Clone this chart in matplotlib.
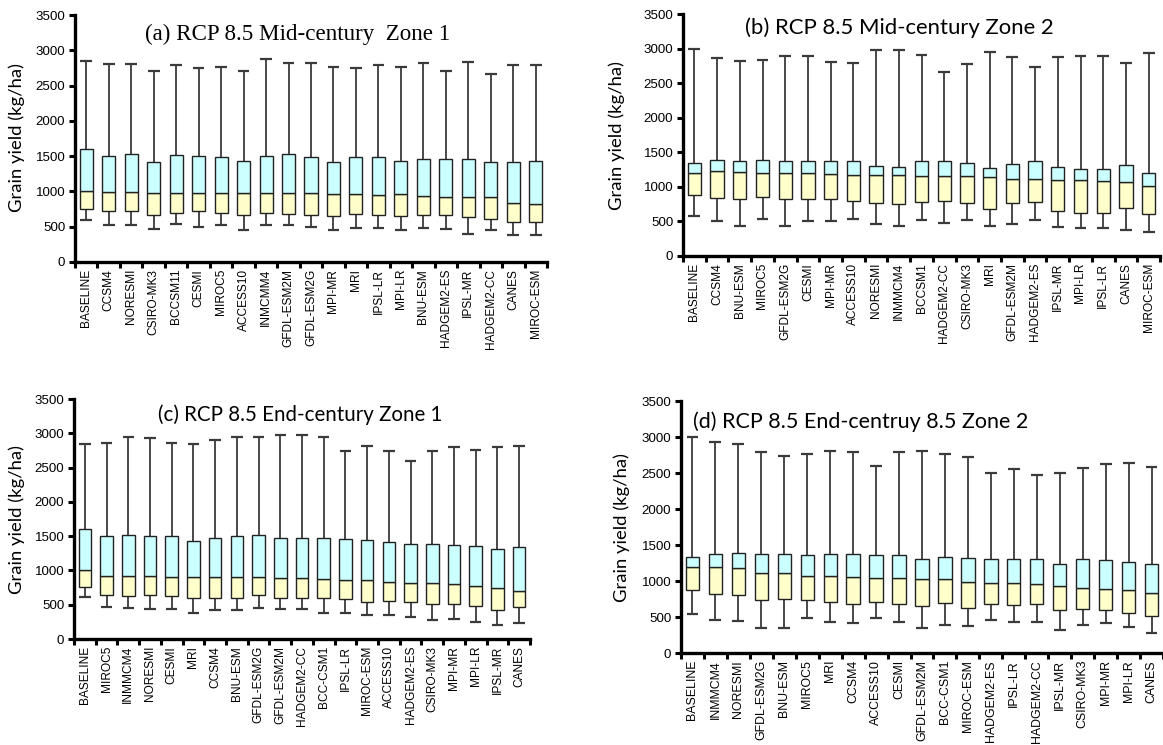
import numpy as np
import matplotlib
matplotlib.use("Agg")
import matplotlib.pyplot as plt

# grain yield box summaries (kg/ha): min, Q1, median, Q3, max per GCM
models_a = ['BASELINE', 'CCSM4', 'NORESMI', 'CSIRO-MK3', 'BCCSM11', 'CESMI', 'MIROC5',
            'ACCESS10', 'INMCMM4', 'GFDL-ESM2M', 'GFDL-ESM2G', 'MPI-MR', 'MRI', 'IPSL-LR',
            'MPI-LR', 'BNU-ESM', 'HADGEM2-ES', 'IPSL-MR', 'HADGEM2-CC', 'CANES', 'MIROC-ESM']
min_a = [600, 520, 520, 465, 535, 500, 520, 450, 520, 520, 500, 450, 485, 485, 450, 485, 465, 400, 450, 385, 385]
q1_a = [750, 720, 720, 670, 700, 720, 700, 670, 700, 685, 670, 655, 685, 670, 655, 670, 670, 635, 615, 570, 570]
med_a = [1000, 990, 990, 975, 975, 975, 975, 975, 975, 975, 975, 960, 960, 955, 960, 940, 925, 925, 925, 840, 820]
q3_a = [1600, 1500, 1530, 1410, 1520, 1500, 1485, 1430, 1500, 1530, 1485, 1410, 1485, 1485, 1430, 1465, 1465, 1465, 1410, 1410, 1430]
max_a = [2850, 2800, 2800, 2700, 2785, 2750, 2770, 2700, 2870, 2820, 2820, 2770, 2750, 2785, 2770, 2820, 2700, 2835, 2670, 2785, 2785]

models_b = ['BASELINE', 'CCSM4', 'BNU-ESM', 'MIROC5', 'GFDL-ESM2G', 'CESMI', 'MPI-MR',
            'ACCESS10', 'NORESMI', 'INMMCM4', 'BCCSM1', 'HADGEM2-CC', 'CSIRO-MK3', 'MRI',
            'GFDL-ESM2M', 'HADGEM2-ES', 'IPSL-MR', 'MPI-LR', 'IPSL-LR', 'CANES', 'MIROC-ESM']
min_b = [575, 505, 440, 540, 440, 505, 505, 540, 460, 440, 525, 475, 525, 440, 460, 525, 420, 405, 405, 375, 340]
q1_b = [880, 845, 825, 860, 825, 825, 825, 795, 760, 745, 785, 800, 765, 680, 765, 785, 645, 625, 625, 695, 610]
med_b = [1200, 1235, 1215, 1200, 1200, 1200, 1185, 1170, 1170, 1170, 1150, 1150, 1150, 1140, 1120, 1120, 1100, 1100, 1085, 1070, 1015]
q3_b = [1350, 1390, 1375, 1390, 1375, 1375, 1375, 1375, 1305, 1285, 1375, 1375, 1350, 1270, 1335, 1375, 1290, 1255, 1255, 1310, 1205]
max_b = [3000, 2860, 2820, 2840, 2890, 2890, 2805, 2790, 2980, 2980, 2910, 2655, 2775, 2945, 2875, 2740, 2875, 2890, 2890, 2790, 2930]

models_c = ['BASELINE', 'MIROC5', 'INMMCM4', 'NORESMI', 'CESMI', 'MRI', 'CCSM4', 'BNU-ESM',
            'GFDL-ESM2G', 'GFDL-ESM2M', 'HADGEM2-CC', 'BCC-CSM1', 'IPSL-LR', 'MIROC-ESM',
            'ACCESS10', 'HADGEM2-ES', 'CSIRO-MK3', 'MPI-MR', 'MPI-LR', 'IPSL-MR', 'CANES']
min_c = [610, 470, 450, 435, 435, 380, 420, 420, 450, 435, 435, 380, 380, 345, 345, 325, 280, 295, 255, 205, 235]
q1_c = [760, 640, 620, 640, 620, 605, 605, 605, 640, 605, 605, 605, 590, 535, 550, 535, 515, 515, 485, 430, 460]
med_c = [1005, 915, 915, 915, 900, 900, 900, 900, 900, 885, 885, 870, 855, 855, 835, 815, 815, 795, 775, 745, 705]
q3_c = [1600, 1500, 1515, 1500, 1500, 1430, 1480, 1500, 1515, 1480, 1480, 1480, 1460, 1440, 1410, 1390, 1390, 1370, 1355, 1315, 1335]
max_c = [2845, 2865, 2950, 2935, 2865, 2845, 2900, 2950, 2950, 2970, 2970, 2950, 2735, 2820, 2735, 2600, 2735, 2800, 2755, 2800, 2820]

models_d = ['BASELINE', 'INMMCM4', 'NORESMI', 'GFDL-ESM2G', 'BNU-ESM', 'MIROC5', 'MRI', 'CCSM4',
            'ACCESS10', 'CESMI', 'GFDL-ESM2M', 'BCC-CSM1', 'MIROC-ESM', 'HADGEM2-ES', 'IPSL-LR',
            'HADGEM2-CC', 'IPSL-MR', 'CSIRO-MK3', 'MPI-MR', 'MPI-LR', 'CANES']
min_d = [545, 460, 445, 345, 345, 480, 425, 410, 480, 425, 345, 395, 375, 465, 425, 425, 325, 395, 410, 360, 275]
q1_d = [870, 820, 800, 730, 750, 730, 715, 680, 715, 680, 650, 700, 630, 680, 665, 680, 595, 615, 600, 560, 520]
med_d = [1195, 1195, 1175, 1110, 1110, 1075, 1075, 1060, 1040, 1040, 1030, 1030, 990, 975, 975, 955, 935, 905, 890, 870, 840]
q3_d = [1335, 1370, 1385, 1370, 1370, 1355, 1370, 1370, 1355, 1355, 1300, 1335, 1315, 1300, 1300, 1300, 1235, 1300, 1285, 1265, 1235]
max_d = [3000, 2930, 2900, 2790, 2740, 2760, 2810, 2790, 2600, 2790, 2810, 2760, 2725, 2500, 2550, 2470, 2500, 2570, 2620, 2640, 2590]

W, H = 1163, 745


def px_box(left, right, top, bottom):
    return [left / W, (H - bottom) / H, (right - left) / W, (bottom - top) / H]


def yieldbox(ax, names, lo, q1, med, q3, hi, namesize=8.6):
    x = np.arange(len(names))
    ax.vlines(x, lo, hi, color='#3a3a3a', lw=1.3, zorder=1)
    ax.hlines(lo, x - 0.26, x + 0.26, color='#3a3a3a', lw=1.6, zorder=1)
    ax.hlines(hi, x - 0.26, x + 0.26, color='#3a3a3a', lw=1.6, zorder=1)
    q1, med, q3 = np.array(q1), np.array(med), np.array(q3)
    ax.bar(x, med - q1, bottom=q1, width=0.58, color='#FFFFCC', edgecolor='#222222', lw=1.0, zorder=2)
    ax.bar(x, q3 - med, bottom=med, width=0.58, color='#CCFFFF', edgecolor='#222222', lw=1.0, zorder=2)

    ax.set_xlim(-0.5, len(names) - 0.5)
    ax.set_ylim(0, 3500)
    ax.set_yticks(np.arange(0, 3501, 500))
    ax.set_xticks(np.arange(-0.5, len(names), 1.0))
    ax.set_xticklabels([])
    ax.set_xticks(x, minor=True)
    ax.set_xticklabels(names, minor=True, rotation=90, fontsize=namesize, family='Liberation Sans')
    ax.tick_params(axis='x', which='major', direction='out', length=4, width=2.2)
    ax.tick_params(axis='x', which='minor', length=0, pad=5)
    ax.tick_params(axis='y', direction='out', length=4, width=2.2, pad=3,
                   labelsize=9.6, labelfontfamily='Liberation Sans')
    for s in ['top', 'right']:
        ax.spines[s].set_visible(False)
    for s in ['left', 'bottom']:
        ax.spines[s].set_linewidth(2.4)
    ax.patch.set_alpha(0)


fig = plt.figure(figsize=(W / 100, H / 100), dpi=100)

panels = [
    (px_box(75, 547, 15, 262), models_a, min_a, q1_a, med_a, q3_a, max_a, 8.6),
    (px_box(683, 1160, 14, 256), models_b, min_b, q1_b, med_b, q3_b, max_b, 8.6),
    (px_box(74, 530, 399, 639), models_c, min_c, q1_c, med_c, q3_c, max_c, 8.6),
    (px_box(681, 1163, 401, 653), models_d, min_d, q1_d, med_d, q3_d, max_d, 8.9),
]
for rect, names, lo, q1, med, q3, hi, ns in panels:
    ax = fig.add_axes(rect)
    yieldbox(ax, names, lo, q1, med, q3, hi, ns)

# panel titles and y labels placed in pixel positions
def ftext(x, y, s, **kw):
    fig.text(x / W, 1 - y / H, s, **kw)

ftext(145, 34, '(a) RCP 8.5 Mid-century  Zone 1', family='Liberation Serif', fontsize=16.6, va='center')
ftext(745, 28, '(b) RCP 8.5 Mid-century Zone 2', family='Lato', fontsize=15.9, va='center')
ftext(158, 415, '(c) RCP 8.5 End-century Zone 1', family='Lato', fontsize=14.8, va='center')
ftext(693, 422, '(d) RCP 8.5 End-centruy 8.5 Zone 2', family='Lato', fontsize=15.5, va='center')

for x, y in [(17, 138), (617, 135), (17, 519), (622, 527)]:
    ftext(x, y, 'Grain yield (kg/ha)', family='Lato', fontsize=13.3, rotation=90,
          ha='center', va='center')

fig.savefig('out.png', dpi=100)
